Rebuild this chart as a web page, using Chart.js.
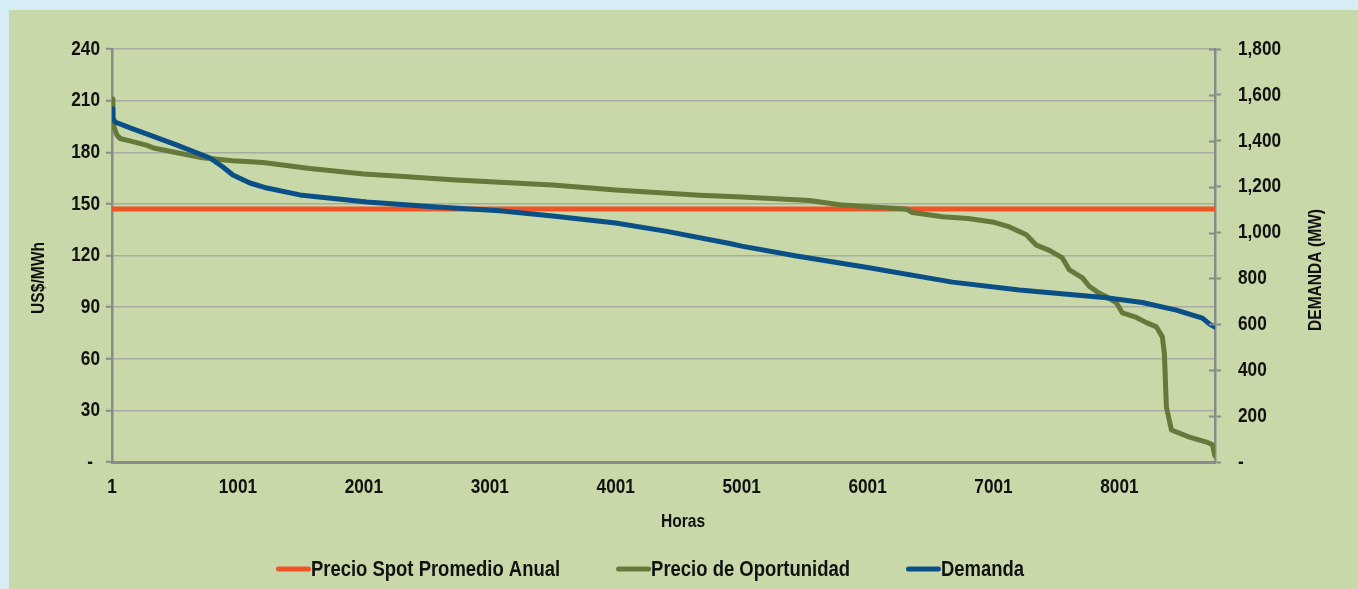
<!DOCTYPE html>
<html lang="es">
<head>
<meta charset="utf-8">
<title>Precio de Oportunidad vs Demanda</title>
<script src="https://cdn.jsdelivr.net/npm/chart.js@4.4.1/dist/chart.umd.min.js"></script>
<style>
    html, body { margin: 0; padding: 0; background: #d7edf5; overflow: hidden; }
    #marco { position: absolute; left: 9px; top: 10px; width: 1349px; height: 579px; background: #c8d8a9; }
    canvas { display: block; }
</style>
</head>
<body>
<div id="marco"><canvas id="grafico" width="1349" height="579"></canvas></div>
<script>
// --- Datos ---
const horasSpot = [1, 8760];
const precioSpot = [147, 147];

const horasPrecio = [1, 8, 20, 40, 65, 150, 280, 330, 500, 700, 960, 1200, 1572, 2001, 2287, 2700, 3080, 3500, 4001, 4668, 5001, 5540, 5778, 6001, 6310, 6357, 6596, 6800, 6993, 7128, 7262, 7342, 7445, 7548, 7604, 7707, 7763, 7842, 7900, 7977, 8025, 8136, 8215, 8295, 8342, 8358, 8374, 8414, 8557, 8692, 8740, 8755, 8760];
const precioOportunidad = [211, 200, 194, 190, 188, 186.5, 184, 182.5, 180, 177, 175, 174, 170.5, 167.4, 166, 164, 162.5, 161, 158, 155, 154, 152, 149.5, 148.3, 147, 145, 142.5, 141.5, 139.5, 136.6, 132, 126, 123, 118.6, 111.6, 107, 102, 98, 96, 92.5, 86.6, 84, 81, 78.5, 72.7, 63, 32, 18.6, 14.5, 11.6, 10, 5, 3.5];

const horasDemanda = [1, 8, 25, 150, 302, 517, 779, 882, 961, 1096, 1231, 1493, 2025, 2548, 3080, 3500, 4001, 4406, 4906, 5001, 5437, 6001, 6675, 7207, 7898, 8183, 8453, 8660, 8720, 8760];
const demanda = [1540, 1500, 1482, 1455, 1425, 1381, 1325, 1286, 1251, 1216, 1194, 1164, 1133, 1112, 1095, 1072, 1042, 1005, 952, 941, 898, 848, 784, 750, 716, 695, 662, 627, 600, 588];

const ticksHoras = [1, 1001, 2001, 3001, 4001, 5001, 6001, 7001, 8001];

const etiquetas = ['Precio Spot Promedio Anual', 'Precio de Oportunidad', 'Demanda'];
const tituloY = 'US$/MWh';
const tituloY1 = 'DEMANDA (MW)';
const tituloX = 'Horas';

// --- Colores ---
const colorSpot = '#ef5426';
const colorOportunidad = '#66783a';
const colorDemanda = '#0b4f87';
const colorEje = '#8a8a8a';
const colorGrilla = '#a8aba0';
const colorTexto = '#111';

// --- Texto angosto (tipo Arial Narrow): Liberation Sans comprimida ---
const familia = '"Liberation Sans", Arial, sans-serif';
const angosto = 0.82;

function textoAngosto(ctx, texto, x, y, alinear, tam, girar) {
    ctx.save();
    ctx.translate(x, y);
    if (girar) ctx.rotate(-Math.PI / 2);
    ctx.scale(angosto, 1);
    ctx.font = `bold ${tam}px ${familia}`;
    ctx.textAlign = alinear;
    ctx.textBaseline = 'middle';
    ctx.fillStyle = colorTexto;
    ctx.fillText(texto, 0, 0);
    ctx.restore();
}

const puntos = (xs, ys) => xs.map((x, i) => ({ x: x, y: ys[i] }));

// --- Etiquetas de ejes, titulos y leyenda ---
const textos = {
    id: 'textos',
    afterDraw(chart) {
        const ctx = chart.ctx;
        const sx = chart.scales.x, sy = chart.scales.y, sy1 = chart.scales.y1;

        sx.ticks.forEach(t => textoAngosto(ctx, t.label, sx.getPixelForValue(t.value), 477, 'center', 21));
        sy.ticks.forEach(t => {
            const esCero = t.label === '-';
            textoAngosto(ctx, t.label, esCero ? 84 : 91, sy.getPixelForValue(t.value), 'right', 21);
        });
        sy1.ticks.forEach(t => textoAngosto(ctx, t.label, 1229, sy1.getPixelForValue(t.value), 'left', 21));

        // marcas del eje derecho que cruzan hacia adentro
        ctx.save();
        ctx.strokeStyle = colorEje;
        ctx.lineWidth = 2;
        sy1.ticks.forEach(t => {
            const py = Math.round(sy1.getPixelForValue(t.value)) + 0.5;
            ctx.beginPath();
            ctx.moveTo(sy1.left - 6, py);
            ctx.lineTo(sy1.left, py);
            ctx.stroke();
        });
        ctx.restore();

        textoAngosto(ctx, tituloX, 674, 512, 'center', 19);
        textoAngosto(ctx, tituloY, 30, 268, 'center', 19, true);
        textoAngosto(ctx, tituloY1, 1307, 260, 'center', 19, true);

        // leyenda
        ctx.save();
        ctx.font = `bold 22.5px ${familia}`;
        const ancho = 35, hueco = 56, yLey = 559;
        const items = chart.data.datasets.map(ds => ({ texto: ds.label, color: ds.borderColor, w: ctx.measureText(ds.label).width * angosto }));
        const total = items.reduce((s, it) => s + ancho + it.w, 0) + hueco * (items.length - 1);
        let x = 641 - total / 2;
        items.forEach(it => {
            ctx.strokeStyle = it.color;
            ctx.lineWidth = 5;
            ctx.lineCap = 'round';
            ctx.beginPath();
            ctx.moveTo(x + 2.5, yLey);
            ctx.lineTo(x + ancho - 2.5, yLey);
            ctx.stroke();
            textoAngosto(ctx, it.texto, x + ancho, yLey + 1, 'left', 22.5);
            x += ancho + it.w + hueco;
        });
        ctx.restore();
    }
};

const serie = (label, xs, ys, color, orden, eje) => ({
    label: label,
    data: puntos(xs, ys),
    borderColor: color,
    backgroundColor: color,
    borderWidth: 5,
    pointRadius: 0,
    tension: 0,
    borderJoinStyle: 'round',
    borderCapStyle: 'round',
    order: orden,
    yAxisID: eje
});

new Chart(document.getElementById('grafico'), {
    type: 'line',
    data: {
        datasets: [
            serie(etiquetas[0], horasSpot, precioSpot, colorSpot, 3, 'y'),
            serie(etiquetas[1], horasPrecio, precioOportunidad, colorOportunidad, 2, 'y'),
            serie(etiquetas[2], horasDemanda, demanda, colorDemanda, 1, 'y1')
        ]
    },
    options: {
        responsive: false,
        animation: false,
        layout: { padding: { top: 39, left: 0, right: 0, bottom: 0 } },
        plugins: { legend: { display: false }, tooltip: { enabled: false } },
        scales: {
            x: {
                type: 'linear',
                min: 1,
                max: 8760,
                afterBuildTicks: s => { s.ticks = ticksHoras.map(v => ({ value: v })); },
                afterFit: s => { s.height = 127; },
                grid: { display: false, drawTicks: false },
                border: { display: true, color: colorEje, width: 3 },
                ticks: { display: false, callback: v => String(v) }
            },
            y: {
                position: 'left',
                min: 0,
                max: 240,
                afterFit: s => { s.width = 103; },
                grid: { color: colorGrilla, lineWidth: 1.5, tickLength: 6, tickColor: colorEje, tickWidth: 2 },
                border: { display: true, color: colorEje, width: 2.5 },
                ticks: { display: false, stepSize: 30, callback: v => v === 0 ? '-' : String(v) }
            },
            y1: {
                position: 'right',
                min: 0,
                max: 1800,
                afterFit: s => { s.width = 143; },
                grid: { drawOnChartArea: false, tickLength: 6, tickColor: colorEje, tickWidth: 2 },
                border: { display: true, color: colorEje, width: 2.5 },
                ticks: { display: false, stepSize: 200, callback: v => v === 0 ? '-' : v.toLocaleString('en-US') }
            }
        }
    },
    plugins: [textos]
});
</script>
</body>
</html>
